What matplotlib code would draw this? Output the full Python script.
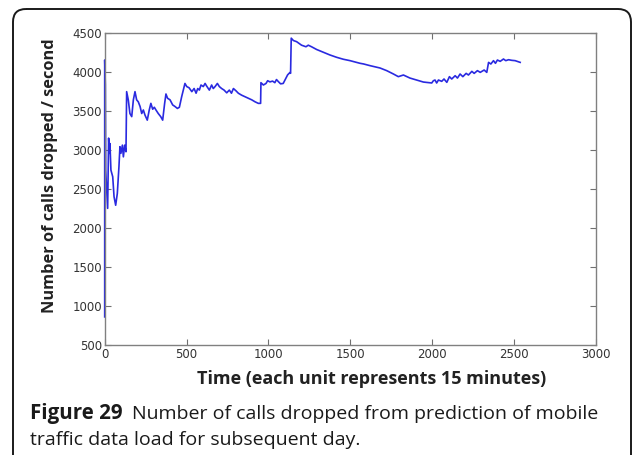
import matplotlib.pyplot as plt
from matplotlib.patches import FancyBboxPatch

# values
time = [0, 0, 4, 6, 12, 18, 24, 28, 32, 38, 49, 57, 67, 77, 87, 93, 99, 108, 114, 122,
        130, 134, 144, 154, 165, 175, 185, 195, 205, 216, 226, 236, 246, 260, 272, 282,
        293, 303, 313, 327, 342, 354, 366, 374, 384, 399, 415, 429, 444, 456, 470, 480,
        490, 501, 515, 532, 546, 558, 568, 578, 588, 602, 613, 623, 639, 653, 663, 674,
        688, 700, 714, 729, 745, 761, 774, 786, 802, 816, 836, 857, 877, 898, 918, 938,
        952, 954, 969, 985, 995, 1009, 1025, 1039, 1049, 1062, 1074, 1090, 1106, 1117,
        1131, 1135, 1139, 1152, 1172, 1202, 1229, 1243, 1263, 1294, 1335, 1375, 1416,
        1457, 1498, 1559, 1580, 1620, 1681, 1722, 1763, 1793, 1824, 1864, 1905, 1946,
        1997, 2007, 2017, 2027, 2038, 2058, 2072, 2089, 2105, 2119, 2140, 2154, 2170,
        2187, 2207, 2221, 2242, 2256, 2276, 2293, 2317, 2333, 2344, 2358, 2374, 2386,
        2398, 2415, 2435, 2449, 2466, 2486, 2506, 2537]
calls = [860, 4150, 3830, 2740, 2485, 2250, 3150, 2955, 3080, 2740, 2655, 2400, 2290, 2440,
         2785, 3040, 2955, 3060, 2910, 3060, 2975, 3745, 3640, 3465, 3425, 3640, 3745, 3640,
         3615, 3555, 3465, 3510, 3445, 3380, 3510, 3595, 3520, 3545, 3510, 3465, 3425, 3380,
         3595, 3715, 3660, 3640, 3575, 3555, 3530, 3545, 3680, 3765, 3850, 3810, 3795, 3745,
         3785, 3725, 3785, 3765, 3830, 3810, 3850, 3815, 3765, 3830, 3785, 3810, 3850, 3810,
         3785, 3765, 3730, 3765, 3725, 3785, 3755, 3725, 3700, 3680, 3660, 3640, 3615, 3595,
         3595, 3860, 3830, 3850, 3885, 3870, 3880, 3860, 3900, 3870, 3845, 3850, 3915, 3960,
         3990, 3980, 4430, 4400, 4385, 4340, 4320, 4340, 4320, 4285, 4250, 4215, 4185, 4160,
         4142, 4108, 4100, 4078, 4048, 4014, 3971, 3937, 3958, 3919, 3894, 3868, 3856, 3885,
         3894, 3856, 3894, 3877, 3907, 3864, 3937, 3907, 3949, 3919, 3971, 3937, 3979, 3958,
         4005, 3979, 4014, 3992, 4022, 3992, 4120, 4099, 4142, 4108, 4150, 4133, 4163, 4142,
         4154, 4146, 4142, 4120]

xticks = [0, 500, 1000, 1500, 2000, 2500, 3000]
yticks = [500, 1000, 1500, 2000, 2500, 3000, 3500, 4000, 4500]

W, H = 634, 455
fig = plt.figure(figsize=(W / 100, H / 100), dpi=100)

# rounded frame around the figure panel
bg = fig.add_axes([0, 0, 1, 1])
bg.set_xlim(0, W)
bg.set_ylim(H, 0)
bg.axis('off')
bg.add_patch(FancyBboxPatch((13, 9), 618, 520, boxstyle="round,pad=0,rounding_size=13",
                            fill=False, ec='#1a1a1a', lw=1.4))

ax = fig.add_axes([104.7 / W, 1 - 345 / H, (596 - 104.7) / W, (345 - 32.7) / H])
ax.plot(time, calls, color='#2a2ae0', lw=1.2, clip_on=False)
ax.set_xlim(0, 3000)
ax.set_ylim(500, 4500)
ax.set_xticks(xticks)
ax.set_yticks(yticks)
ax.tick_params(direction='in', length=4, width=0.8, color='#707070', labelsize=8.5,
               labelcolor='#333333', top=True, right=True, pad=2)
for s in ax.spines.values():
    s.set_color('#808080')
    s.set_linewidth(1.0)

# axis labels, placed where they sit in the reference
ax.text(0.543, -0.109, 'Time (each unit represents 15 minutes)', transform=ax.transAxes,
        fontsize=13, fontweight='bold', family='Open Sans', color='#222222',
        ha='center', va='center')
ax.text(-0.112, 0.541, 'Number of calls dropped / second', transform=ax.transAxes,
        rotation=90, fontsize=11.8, fontweight='bold', family='Open Sans', color='#222222',
        ha='center', va='center')

fig.text(30 / W, 1 - 419 / H, 'Figure 29', fontsize=14.8, fontweight='bold',
         family='Open Sans', color='#1a1a1a', va='baseline')
fig.text(132 / W, 1 - 419 / H, 'Number of calls dropped from prediction of mobile',
         fontsize=14, family='Open Sans', color='#1a1a1a', va='baseline')
fig.text(30 / W, 1 - 445 / H, 'traffic data load for subsequent day.',
         fontsize=14, family='Open Sans', color='#1a1a1a', va='baseline')

fig.savefig('out.png', dpi=100)
